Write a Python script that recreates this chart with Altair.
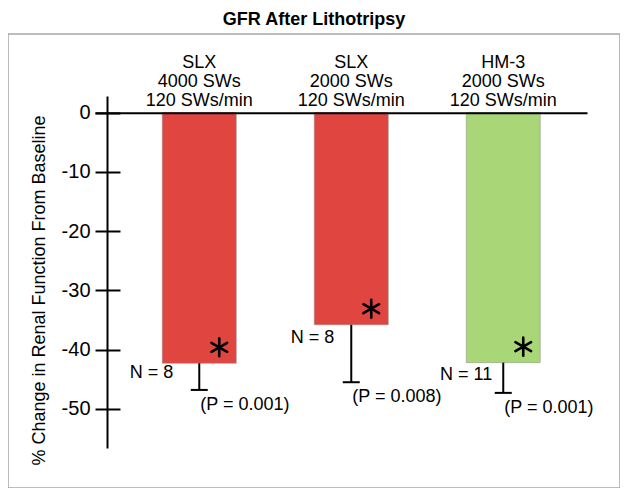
import altair as alt
import pandas as pd

# ---- data ----
machines = ["SLX", "SLX", "HM-3"]
shock_waves = ["4000 SWs", "2000 SWs", "2000 SWs"]
rates = ["120 SWs/min", "120 SWs/min", "120 SWs/min"]
mean_change = [-42.3, -35.8, -42.2]
error_bar = [4.5, 9.7, 5.1]
n_subjects = [8, 8, 11]
p_values = ["0.001", "0.008", "0.001"]
bar_colors = ["#E0453F", "#E0453F", "#A9D676"]
y_ticks = [0, -10, -20, -30, -40, -50]

groups = [f"{m}\n{s}\n{r}" for m, s, r in zip(machines, shock_waves, rates)]
df = pd.DataFrame({
    "group": groups,
    "mean": mean_change,
    "err": error_bar,
    "n": n_subjects,
    "p": p_values,
})
df["low"] = df["mean"] - df["err"]
df["n_label"] = "N = " + df["n"].astype(str)
df["p_label"] = "(P = " + df["p"] + ")"
df["idx"] = list(range(len(df)))

FONT = "Liberation Sans"

x_enc = alt.X(
    "group:N",
    sort=groups,
    scale=alt.Scale(range=[87, 579], paddingInner=0.513, paddingOuter=0.375, align=0.59),
    axis=alt.Axis(
        orient="top", offset=-78.7, title=None, ticks=False, tickSize=0,
        domain=True, domainColor="black", domainWidth=2,
        labelAngle=0, labelExpr="split(datum.label, '\\n')",
        labelFont=FONT, labelFontSize=18, labelColor="black",
        labelLineHeight=18.7, labelBaseline="bottom", labelPadding=40.9,
        labelOverlap=False, zindex=1,
    ),
)

y_scale = alt.Scale(domain=[-56.6, 2.8], range=[414, 62], nice=False, zero=False)

axis_left = alt.Axis(
    orient="left", offset=-99, values=y_ticks, domain=False, grid=False,
    tickSize=12, tickWidth=2, tickColor="black",
    labelExpr="'' + datum.value",
    labelFont=FONT, labelFontSize=20, labelColor="black", labelPadding=5,
    title="% Change in Renal Function From Baseline",
    titleFont=FONT, titleFontSize=18, titleFontWeight="normal", titleColor="black",
    titleX=-68, titleY=256, titleBaseline="middle", titleAngle=-90,
)
axis_right = alt.Axis(
    orient="right", offset=-513, values=y_ticks, grid=False,
    domain=True, domainColor="black", domainWidth=2,
    ticks=True, tickSize=13, tickWidth=2, tickColor="black",
    labels=False, title=None,
)

base = alt.Chart(df)

bars = base.mark_bar(stroke="#8c8c8c", strokeWidth=0.5).encode(
    x=x_enc,
    y=alt.Y("mean:Q", scale=y_scale, axis=axis_left),
    y2=alt.datum(0),
    color=alt.Color("group:N", scale=alt.Scale(domain=groups, range=bar_colors), legend=None),
)

err_rule = base.mark_rule(color="black", strokeWidth=2).encode(
    x=x_enc,
    y=alt.Y("mean:Q", scale=y_scale, axis=axis_right),
    y2="low:Q",
)

err_cap = base.mark_tick(color="black", thickness=2, size=17, opacity=1).encode(
    x=x_enc,
    y=alt.Y("low:Q", scale=y_scale, axis=None),
)

star_path = "M0,-1L0,1M-0.87,-0.5L0.87,0.5M-0.87,0.5L0.87,-0.5"
stars = base.mark_point(
    shape=star_path, size=324, filled=False, stroke="black", strokeWidth=2.6,
    strokeCap="round", opacity=1, xOffset=20, yOffset=-16,
).encode(
    x=x_enc,
    y=alt.Y("mean:Q", scale=y_scale, axis=None),
)

n_layers = []
for i, (dx, dy) in enumerate([(-26, 10), (-17, 13), (-11, 12)]):
    n_layers.append(
        base.transform_filter(alt.datum.idx == i).mark_text(
            align="right", baseline="middle", dx=dx, dy=dy,
            font=FONT, fontSize=18, color="black",
        ).encode(
            x=x_enc,
            y=alt.Y("mean:Q", scale=y_scale, axis=None),
            text="n_label:N",
        )
    )

p_text = base.mark_text(
    align="left", baseline="middle", dx=1, dy=15,
    font=FONT, fontSize=18, color="black",
).encode(
    x=x_enc,
    y=alt.Y("low:Q", scale=y_scale, axis=None),
    text="p_label:N",
)

chart = alt.layer(bars, err_rule, err_cap, stars, *n_layers, p_text).resolve_axis(
    y="independent"
).properties(
    width=612,
    height=454,
    padding={"left": 0, "top": 3, "right": 0, "bottom": 0},
    title=alt.Title(
        "GFR After Lithotripsy", font=FONT, fontSize=18, fontWeight="bold",
        color="black", offset=5, anchor="middle",
    ),
).configure_view(stroke="#a6a6a6", strokeWidth=1.5)

chart.save("out.html", embed_options={"renderer": "svg", "actions": False})
